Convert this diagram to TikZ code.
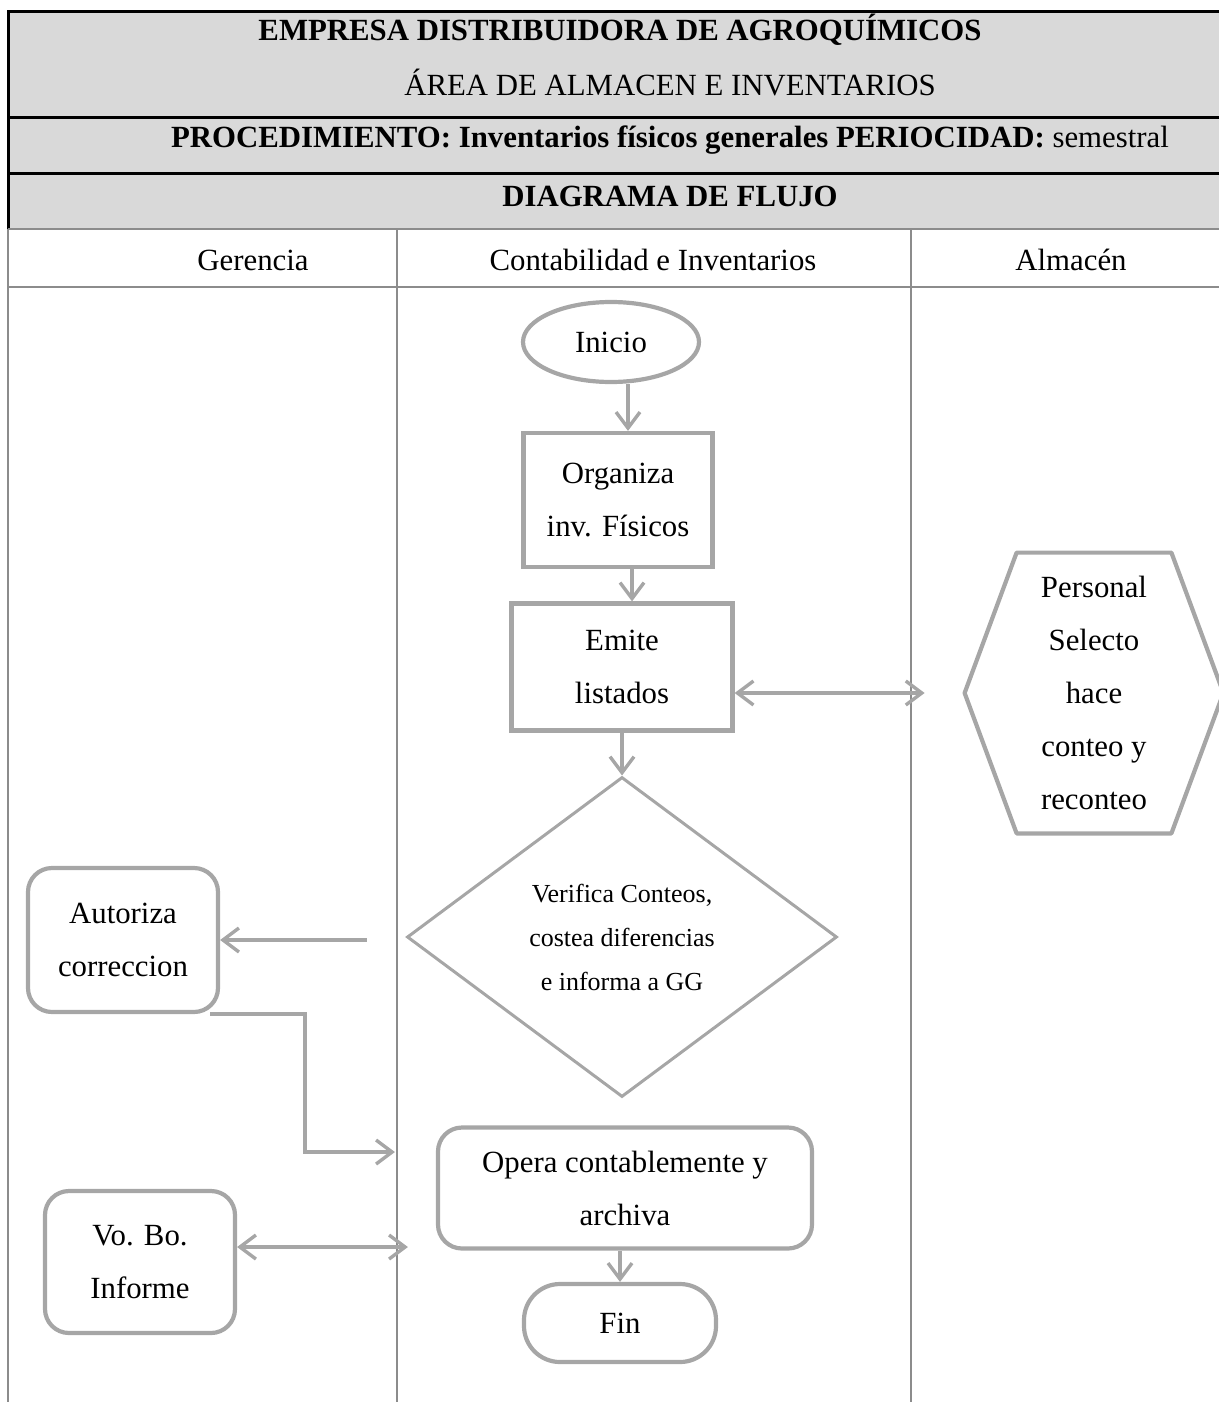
\documentclass[tikz,border=0pt]{standalone}
\usepackage{fontspec}
\setmainfont{Liberation Serif}
\usetikzlibrary{arrows.meta,shapes.geometric,calc}

\definecolor{headgray}{RGB}{217,217,217}
\definecolor{lanegray}{RGB}{140,140,140}
\definecolor{shapegray}{RGB}{166,166,166}

\begin{document}
\begin{tikzpicture}[x=0.5pt, y=-0.5pt,
    body/.style={font=\fontsize{15.4}{26.5}\selectfont, align=center, inner sep=0pt},
    small/.style={font=\fontsize{13}{22}\selectfont, align=center, inner sep=0pt},
    shapeline/.style={draw=shapegray, line width=2.1pt},
    task/.style={body, shapeline, rectangle},
    roundtask/.style={body, shapeline, rectangle, rounded corners=12pt},
    flow/.style={draw=shapegray, line width=1.7pt, -{Straight Barb[length=8pt,width=12pt]}},
    both/.style={flow, {Straight Barb[length=8pt,width=12pt]}-{Straight Barb[length=8pt,width=12pt]}},
    headline/.style={line width=1.5pt},
    laneline/.style={draw=lanegray, line width=1pt}]
  \useasboundingbox (0,0) rectangle (1219,1402);

  % header of the sheet
  \fill[headgray] (8,12) rectangle (1240,229);
  \draw[headline] (1240,12) -- (8,12) -- (8,229);
  \draw[headline] (8,118) -- (1240,118)  (8,173) -- (1240,173);
  \draw[laneline] (8,229) -- (1240,229)  (8,287) -- (1240,287);
  \node[body, font=\fontsize{15.4}{26.5}\selectfont\bfseries] (empresa) at (620,30) {EMPRESA DISTRIBUIDORA DE AGROQUÍMICOS};
  \node[body] (area) at (670,83) {ÁREA DE ALMACEN E INVENTARIOS};
  \node[body] (proc) at (670,140) {\textbf{PROCEDIMIENTO: Inventarios físicos generales PERIOCIDAD:} semestral};
  \node[body, font=\fontsize{15.4}{26.5}\selectfont\bfseries] (diagrama) at (670,196) {DIAGRAMA DE FLUJO};

  % lanes
  \draw[laneline] (8,229) -- (8,1402)  (397,229) -- (397,1402)  (911,229) -- (911,1402);
  \node[body] (gerencia) at (253,260) {Gerencia};
  \node[body] (contab) at (653,260) {Contabilidad e Inventarios};
  \node[body] (almacen) at (1071,260) {Almacén};

  % steps
  \node[body, shapeline, ellipse, minimum width=88pt, minimum height=40pt] (inicio) at (611,342) {Inicio};
  \node[task, minimum width=94.5pt, minimum height=67pt] (organiza) at (618,500) {Organiza\\inv. Físicos};
  \node[task, minimum width=110.5pt, minimum height=63.5pt] (emite) at (622,667) {Emite\\listados};
  \node[small, shapeline, line width=1.5pt, diamond, minimum width=215pt, minimum height=160pt] (verif) at (622,937)
    {Verifica Conteos,\\costea diferencias\\e informa a GG};
  \node[body, minimum width=129pt, minimum height=140pt] (perso) at (1094,693)
    {Personal\\Selecto\\hace\\conteo y\\reconteo};
  \draw[shapeline, line join=round] (perso.west) -- ($(perso.north west)+(52,0)$) -- ($(perso.north east)+(-52,0)$)
    -- (perso.east) -- ($(perso.south east)+(-52,0)$) -- ($(perso.south west)+(52,0)$) -- cycle;
  \node[roundtask, minimum width=95pt, minimum height=72pt] (autoriza) at (123,940) {Autoriza\\correccion};
  \node[roundtask, minimum width=187pt, minimum height=60.5pt] (opera) at (625,1188) {Opera contablemente y\\archiva};
  \node[roundtask, minimum width=95pt, minimum height=71pt] (vobo) at (140,1262) {Vo. Bo.\\Informe};
  \node[roundtask, rounded corners=18pt, minimum width=96pt, minimum height=39pt] (fin) at (620,1323) {Fin};

  % connectors
  \draw[flow] ([xshift=5pt]organiza.north |- inicio.south) -- ([xshift=5pt]organiza.north);
  \draw[flow] ([xshift=7pt]organiza.south) -- ([xshift=7pt]organiza.south |- emite.north);
  \draw[flow] (emite.south) -- (verif.north);
  \draw[both, shorten >=20pt] (emite.east |- perso.west) -- (perso.west);
  \draw[flow, shorten <=19.5pt] (verif.west |- autoriza.east) -- (autoriza.east);
  \draw[flow] ([xshift=-5pt]autoriza.south east) -- ++(95,0) |- ($(opera.west)+(-41,-36)$);
  \draw[both, shorten >=14pt] ([yshift=7.5pt]vobo.east) -- ([yshift=7.5pt]vobo.east -| opera.west);
  \draw[flow] (fin.north |- opera.south) -- (fin.north);
\end{tikzpicture}
\end{document}
